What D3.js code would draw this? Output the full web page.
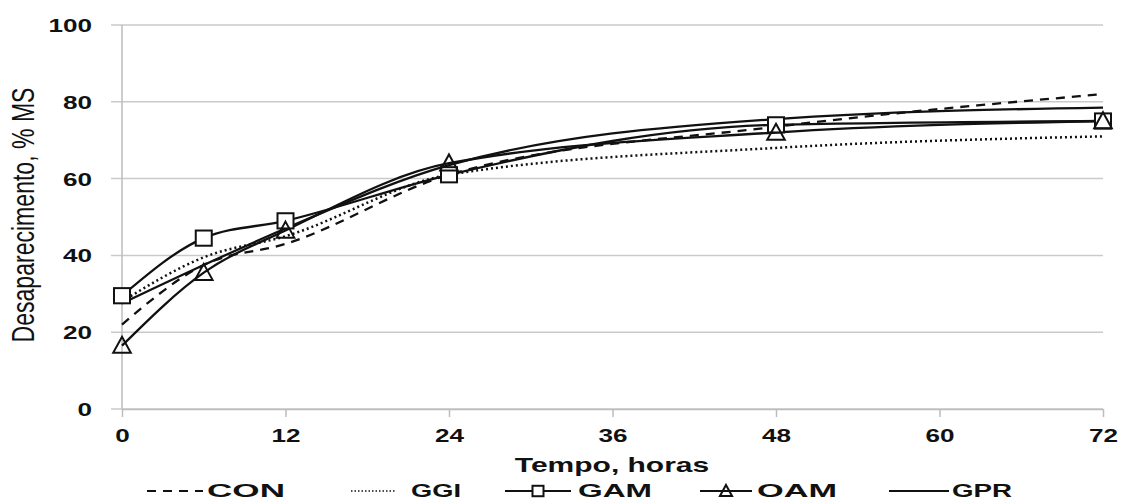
<!DOCTYPE html>
<html>
<head>
<meta charset="utf-8">
<script src="https://cdn.jsdelivr.net/npm/d3@7"></script>
<style>
  body { margin: 0; background: #fff; }
  text { font-family: Arial, "Liberation Sans", sans-serif; }
</style>
</head>
<body>
<svg id="chart" width="1125" height="502"></svg>
<script>
// Data
const times = [0, 6, 12, 24, 48, 72];
const conValues = [22, 37.5, 43, 61, 73.5, 82];
const ggiValues = [28, 39.5, 45, 61, 68, 71];
const gamValues = [29.5, 44.5, 49, 61, 74, 75];
const oamValues = [16.5, 35.5, 46.5, 64, 72, 75];
const gprValues = [27.5, 37.5, 47, 63.5, 75.5, 78.5];
const xTicks = [0, 12, 24, 36, 48, 60, 72];
const yTicks = [0, 20, 40, 60, 80, 100];

const series = [
  { name: "CON", values: conValues, dash: "9,7", marker: null },
  { name: "GGI", values: ggiValues, dash: "2,3", marker: null },
  { name: "GAM", values: gamValues, dash: null, marker: "square" },
  { name: "OAM", values: oamValues, dash: null, marker: "triangle" },
  { name: "GPR", values: gprValues, dash: null, marker: null },
];

// the original figure is stretched sideways, so text is widened too
const stretch = 1.45;

const svg = d3.select("#chart");
const x = d3.scaleLinear().domain([0, 72]).range([122, 1103]);
const y = d3.scaleLinear().domain([0, 100]).range([409, 25]);

// Gridlines
svg.append("g")
  .selectAll("line")
  .data(yTicks)
  .enter()
  .append("line")
  .attr("x1", 111)
  .attr("x2", 1103)
  .attr("y1", (d) => y(d))
  .attr("y2", (d) => y(d))
  .attr("stroke", "#cacaca")
  .attr("stroke-width", 1.5);

// Y axis line
svg.append("line")
  .attr("x1", x(0)).attr("x2", x(0))
  .attr("y1", y(100)).attr("y2", y(0))
  .attr("stroke", "#bdbdbd")
  .attr("stroke-width", 1.5);

// X axis
const xAxis = svg.append("g")
  .attr("transform", `translate(0,${y(0)})`)
  .call(d3.axisBottom(x).tickValues(xTicks).tickSize(8).tickSizeOuter(0));
xAxis.select(".domain").attr("stroke", "#bdbdbd").attr("stroke-width", 1.5);
xAxis.selectAll(".tick line").attr("stroke", "#bdbdbd").attr("stroke-width", 1.5);
xAxis.selectAll(".tick text")
  .attr("y", 33)
  .attr("dy", null)
  .attr("font-size", 18)
  .attr("font-weight", "bold")
  .attr("fill", "#111")
  .attr("transform", `scale(${stretch},1)`);

// Y tick labels
svg.append("g")
  .selectAll("text")
  .data(yTicks)
  .enter()
  .append("text")
  .attr("transform", (d) => `translate(92,${y(d) + 7}) scale(${stretch},1)`)
  .attr("text-anchor", "end")
  .attr("font-size", 18)
  .attr("font-weight", "bold")
  .attr("fill", "#111")
  .text((d) => d);

// Axis titles
svg.append("text")
  .attr("transform", `translate(612,472) scale(1.5,1)`)
  .attr("text-anchor", "middle")
  .attr("font-size", 20)
  .attr("font-weight", "bold")
  .attr("fill", "#111")
  .text("Tempo, horas");

svg.append("text")
  .attr("transform", `translate(34,215) scale(${stretch},1) rotate(-90)`)
  .attr("text-anchor", "middle")
  .attr("font-size", 21)
  .attr("fill", "#111")
  .attr("textLength", 255)
  .attr("lengthAdjust", "spacingAndGlyphs")
  .text("Desaparecimento, % MS");

// Lines
const line = d3.line()
  .x((d, i) => x(times[i]))
  .y((d) => y(d))
  .curve(d3.curveMonotoneX);

const lineGroup = svg.append("g");
series.forEach((s) => {
  lineGroup.append("path")
    .datum(s.values)
    .attr("d", line)
    .attr("fill", "none")
    .attr("stroke", "#111")
    .attr("stroke-width", s.dash === "2,3" ? 2.5 : 2.3)
    .attr("stroke-dasharray", s.dash);
});

// Markers
function drawMarker(g, type, cx, cy, size) {
  const h = size / 2;
  if (type === "square") {
    g.append("rect")
      .attr("x", cx - h).attr("y", cy - h * 0.95)
      .attr("width", size).attr("height", size * 0.95)
      .attr("fill", "#fff")
      .attr("stroke", "#111")
      .attr("stroke-width", 2);
  } else if (type === "triangle") {
    g.append("path")
      .attr("d", `M${cx},${cy - h * 1.1}L${cx + h * 1.1},${cy + h * 0.9}L${cx - h * 1.1},${cy + h * 0.9}Z`)
      .attr("fill", "none")
      .attr("stroke", "#111")
      .attr("stroke-width", 2);
  }
}

const markerGroup = svg.append("g");
series.filter((s) => s.marker).forEach((s) => {
  s.values.forEach((v, i) => drawMarker(markerGroup, s.marker, x(times[i]), y(v), 16));
});

// Legend
const legendItems = [
  { s: series[0], x0: 147, x1: 203, tx: 207, tw: 78 },
  { s: series[1], x0: 351, x1: 396, tx: 411, tw: 50 },
  { s: series[2], x0: 505, x1: 571, tx: 578, tw: 74 },
  { s: series[3], x0: 700, x1: 752, tx: 757, tw: 80 },
  { s: series[4], x0: 889, x1: 949, tx: 952, tw: 60 },
];
const legendY = 491;
const legend = svg.append("g");
legendItems.forEach((item) => {
  legend.append("line")
    .attr("x1", item.x0).attr("x2", item.x1)
    .attr("y1", legendY).attr("y2", legendY)
    .attr("stroke", "#111")
    .attr("stroke-width", item.s.dash === "2,3" ? 1.6 : 2.2)
    .attr("stroke-dasharray", item.s.dash === "2,3" ? "1.5,2" : item.s.dash);
  if (item.s.marker) {
    drawMarker(legend, item.s.marker, (item.x0 + item.x1) / 2, legendY, 11);
  }
  legend.append("text")
    .attr("x", item.tx)
    .attr("y", 497)
    .attr("font-size", 19)
    .attr("font-weight", "bold")
    .attr("fill", "#111")
    .attr("textLength", item.tw)
    .attr("lengthAdjust", "spacingAndGlyphs")
    .text(item.s.name);
});
</script>
</body>
</html>
